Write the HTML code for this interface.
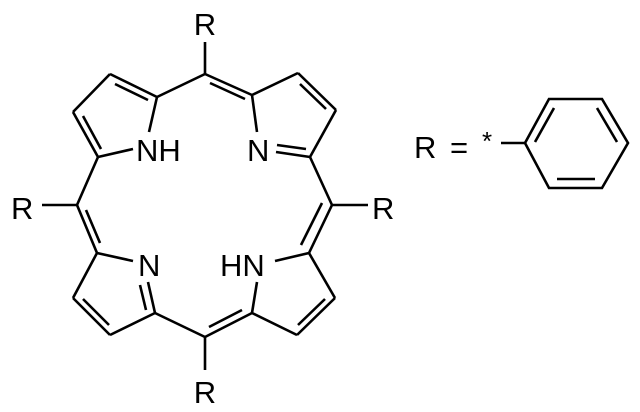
<!DOCTYPE html>
<html><head><meta charset="utf-8"><style>
html,body{margin:0;padding:0;background:#fff;}
svg{display:block}
text{font-family:"Liberation Sans",Arial,sans-serif;font-size:31px;fill:#000}
</style></head><body>
<svg width="640" height="412" viewBox="0 0 640 412" xmlns="http://www.w3.org/2000/svg">
<g stroke="#000" stroke-width="2.6" fill="none" stroke-linecap="butt">
<!-- top meso -->
<line x1="205" y1="42" x2="205" y2="74"/>
<line x1="205" y1="74" x2="157" y2="97"/>
<line x1="205" y1="74" x2="252" y2="95"/>
<line x1="210" y1="83" x2="245" y2="99"/>
<!-- top-left pyrrole -->
<line x1="157" y1="97" x2="110" y2="74"/>
<line x1="115" y1="84" x2="148" y2="100"/>
<line x1="110" y1="74" x2="73" y2="112"/>
<line x1="73" y1="112" x2="98" y2="157"/>
<line x1="83" y1="116" x2="101" y2="149"/>
<line x1="157" y1="97" x2="149" y2="132"/>
<line x1="98" y1="157" x2="133" y2="149"/>
<!-- left meso -->
<line x1="98" y1="157" x2="77" y2="205"/>
<line x1="42" y1="205" x2="77" y2="205"/>
<line x1="77" y1="205" x2="97" y2="253"/>
<line x1="86" y1="210" x2="100" y2="243"/>
<!-- bottom-left pyrrole -->
<line x1="97" y1="253" x2="133" y2="261"/>
<line x1="148" y1="282" x2="155" y2="313"/>
<line x1="140" y1="285" x2="146" y2="310"/>
<line x1="155" y1="313" x2="110" y2="335"/>
<line x1="110" y1="335" x2="73" y2="298"/>
<line x1="83" y1="299" x2="109" y2="325"/>
<line x1="73" y1="298" x2="97" y2="253"/>
<!-- bottom meso -->
<line x1="155" y1="313" x2="205" y2="337"/>
<line x1="205" y1="337" x2="205" y2="370"/>
<line x1="205" y1="337" x2="252" y2="313"/>
<line x1="209" y1="327" x2="242" y2="310"/>
<!-- bottom-right pyrrole -->
<line x1="252" y1="313" x2="257" y2="282"/>
<line x1="252" y1="313" x2="297" y2="335"/>
<line x1="297" y1="335" x2="335" y2="298"/>
<line x1="298" y1="325" x2="325" y2="299"/>
<line x1="335" y1="298" x2="309" y2="253"/>
<line x1="309" y1="253" x2="275" y2="261"/>
<!-- right meso -->
<line x1="309" y1="253" x2="332" y2="205"/>
<line x1="301" y1="245" x2="322" y2="203"/>
<line x1="332" y1="205" x2="368" y2="205"/>
<line x1="332" y1="205" x2="310" y2="157"/>
<!-- top-right pyrrole -->
<line x1="310" y1="157" x2="276" y2="152"/>
<line x1="306" y1="149" x2="277" y2="145"/>
<line x1="310" y1="157" x2="336" y2="110"/>
<line x1="336" y1="110" x2="298" y2="73"/>
<line x1="326" y1="109" x2="300" y2="84"/>
<line x1="298" y1="73" x2="252" y2="95"/>
<line x1="252" y1="95" x2="257" y2="132"/>
<!-- benzene -->
<line x1="501" y1="143" x2="525" y2="143"/>
<polygon points="525,143 549,99 602,99 628,143 602,188 549,188"/>
<line x1="535" y1="142" x2="554" y2="108"/>
<line x1="597" y1="108" x2="617" y2="142"/>
<line x1="557" y1="179" x2="595" y2="179"/>
</g>
<text x="205" y="35" text-anchor="middle">R</text>
<text x="205" y="403" text-anchor="middle">R</text>
<text x="11" y="219">R</text>
<text x="372" y="219">R</text>
<text x="136" y="161">NH</text>
<text x="247" y="161">N</text>
<text x="138" y="276">N</text>
<text x="220" y="276">HN</text>
<text x="414" y="158">R</text>
<text x="450" y="158">=</text>
<text x="482" y="150" style="font-size:26px">*</text>
</svg>
</body></html>
